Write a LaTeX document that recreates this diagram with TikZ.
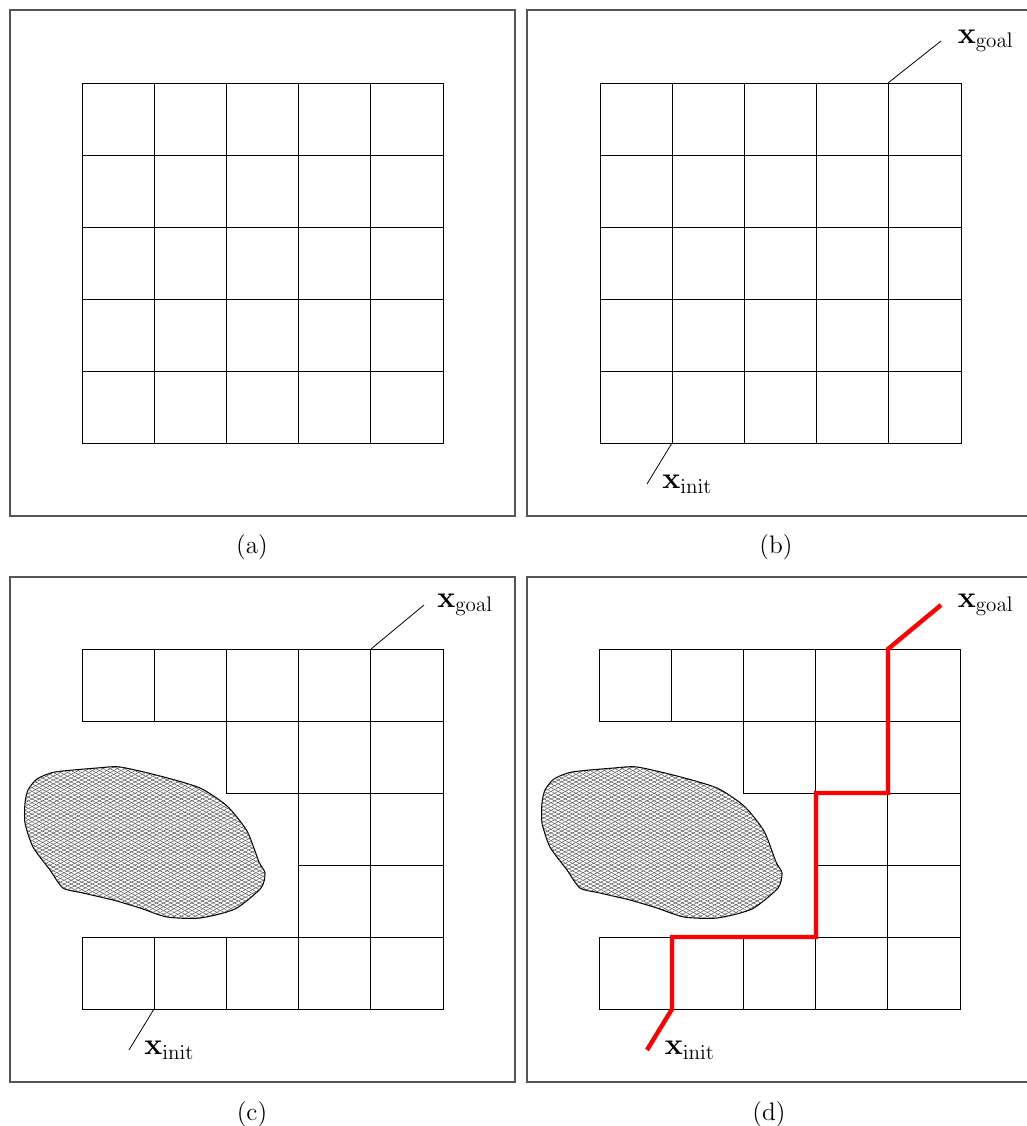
\documentclass[tikz,border=0pt]{standalone}
\usepackage{amsmath,amssymb}
\usepackage{tikz}
\usetikzlibrary{positioning,patterns.meta}
\definecolor{myred}{RGB}{255,0,0}
\definecolor{myhatch}{RGB}{90,90,90}
\definecolor{mygray}{RGB}{85,85,85}

\begin{document}
\begin{tikzpicture}[x=0.02cm,y=-0.02cm,
    panel/.style={draw=mygray, line width=0.6pt},
    cell/.style={draw=black, line width=0.45pt},
    lead/.style={black, line width=0.45pt},
    route/.style={myred, line width=2.5pt},
    lbl/.style={font=\LARGE, inner sep=0pt},
    subcap/.style={font=\Large},
    obst/.style={draw=black, line width=0.6pt,
      pattern={Lines[angle=28,distance=1.9pt,line width=0.3pt]}, pattern color=myhatch,
      postaction={pattern={Lines[angle=-28,distance=1.9pt,line width=0.3pt]}, pattern color=myhatch}}]
  \useasboundingbox (0,0) rectangle (1027,1126);

  % (a) empty grid
  \draw[panel] (10,10) rectangle (515,516);
  \foreach \i in {0,...,4}
    \foreach \j in {0,...,4}
      \draw[cell] (82+\i*72.2,83+\j*72) rectangle ++(72.2,72);
  \node[subcap] (capa) at (252,547) {(a)};

  % (b) grid with start and goal
  \draw[panel] (527,10) rectangle (1032,516);
  \foreach \i in {0,...,4}
    \foreach \j in {0,...,4}
      \draw[cell] (600+\i*72.2,83+\j*72) rectangle ++(72.2,72);
  \coordinate (gb0) at (888,83);
  \coordinate (gb1) at (941,41);
  \coordinate (ib0) at (672,443);
  \coordinate (ib1) at (647,484);
  \draw[lead] (gb0) -- (gb1);
  \draw[lead] (ib0) -- (ib1);
  \node[lbl, right=0.33cm of gb1] (goalb) {$\mathbf{x}_{\mathrm{goal}}$};
  \node[lbl, right=0.3cm of ib1] (initb) {$\mathbf{x}_{\mathrm{init}}$};
  \node[subcap] (capb) at (776,547) {(b)};

  % (c) and (d) cells left free by the obstacle
  \foreach \sx/\nm in {0/c,517/d}{
    \begin{scope}[shift={(\sx,0)}]
      \draw[panel] (10,577) rectangle (515,1082);
      \foreach \i/\j in {0/0,1/0,2/0,3/0,4/0,2/1,3/1,4/1,3/2,4/2,3/3,4/3,0/4,1/4,2/4,3/4,4/4}
        \draw[cell] (82+\i*72.2,649+\j*72) rectangle ++(72.2,72);
      \draw[obst] plot[smooth cycle, tension=0.4] coordinates {
        (37,779) (55,772) (97,768) (120,767) (160,776) (200,788) (227,806)
        (247,831) (259,862) (265,873) (261,888) (235,909) (200,918) (167,917)
        (140,908) (113,900) (83,893) (63,888) (50,870) (33,847) (25,823)
        (25,803) (28,790)};
      \node[subcap] (cap\nm) at (252,1114) {(\nm)};
    \end{scope}
  }

  % (c) start and goal
  \coordinate (gc0) at (371,649);
  \coordinate (gc1) at (424,605);
  \coordinate (ic0) at (154,1009);
  \coordinate (ic1) at (129,1050);
  \draw[lead] (gc0) -- (gc1);
  \draw[lead] (ic0) -- (ic1);
  \node[lbl, right=0.26cm of gc1] (goalc) {$\mathbf{x}_{\mathrm{goal}}$};
  \node[lbl, right=0.3cm of ic1] (initc) {$\mathbf{x}_{\mathrm{init}}$};

  % (d) path found
  \coordinate (gd0) at (888,649);
  \coordinate (gd1) at (941,605);
  \coordinate (id0) at (672,1009);
  \coordinate (id1) at (647,1050);
  \draw[route] (gd1) -- (gd0) -- ++(0,144) -- ++(-72,0) -- ++(0,144)
    -- ++(-144,0) -- (id0) -- (id1);
  \node[lbl, right=0.33cm of gd1] (goald) {$\mathbf{x}_{\mathrm{goal}}$};
  \node[lbl, right=0.35cm of id1] (initd) {$\mathbf{x}_{\mathrm{init}}$};
\end{tikzpicture}
\end{document}
